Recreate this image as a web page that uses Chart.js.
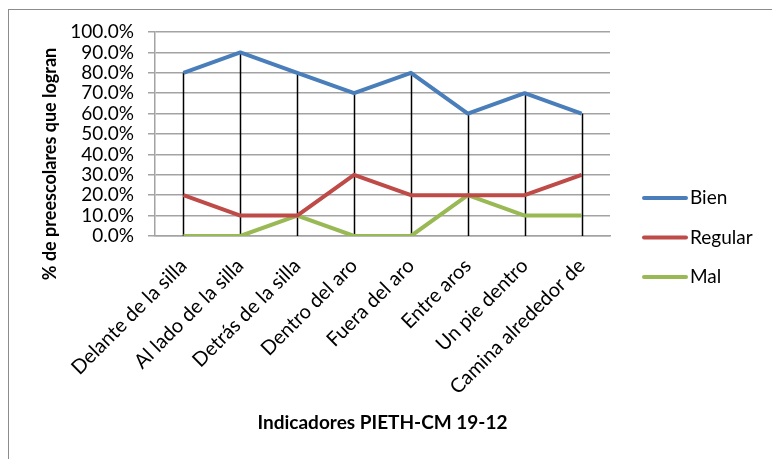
<!DOCTYPE html>
<html>
<head>
<meta charset="utf-8">
<script src="https://cdn.jsdelivr.net/npm/chart.js"></script>
<style>
  html, body { margin: 0; padding: 0; background: #fff; overflow: hidden; }
  #wrap { position: relative; width: 772px; height: 459px; }
  #frame { position: absolute; left: 8px; top: 9px; width: 900px; height: 600px; border-left: 1.5px solid #8c8c8c; border-top: 1.5px solid #8c8c8c; }
  canvas { position: absolute; left: 0; top: 0; }
</style>
</head>
<body>
<div id="wrap">
  <div id="frame"></div>
  <canvas id="chart" width="772" height="459"></canvas>
</div>
<script>
// datos del gráfico
const categories = [
  "Delante de la silla", "Al lado de la silla", "Detrás de la silla", "Dentro del aro",
  "Fuera del aro", "Entre aros", "Un pie dentro", "Camina alrededor de"
];
const bien = [80, 90, 80, 70, 80, 60, 70, 60];
const regular = [20, 10, 10, 30, 20, 20, 20, 30];
const mal = [0, 0, 10, 0, 0, 20, 10, 10];
const seriesNames = ["Bien", "Regular", "Mal"];
const seriesColors = ["#4a7ebb", "#be4b48", "#98b954"];
const yTitle = "% de preescolares que logran";
const xTitle = "Indicadores PIETH-CM 19-12";

const FONT = "Lato, 'Open Sans', sans-serif";
const GRID = "#a3a3a3";
const FS = 19;

Chart.defaults.font.family = FONT;
Chart.defaults.color = "#000";

// lineas verticales desde el valor mas alto hasta 0
const dropLines = {
  id: "dropLines",
  beforeDatasetsDraw(chart) {
    const { ctx, scales: { x, y } } = chart;
    ctx.save();
    ctx.strokeStyle = "#000";
    ctx.lineWidth = 1.5;
    categories.forEach((c, i) => {
      const top = Math.max(...chart.data.datasets.map(d => d.data[i]));
      const px = Math.round(x.getPixelForValue(i)) + 0.5;
      ctx.beginPath();
      ctx.moveTo(px, y.getPixelForValue(top));
      ctx.lineTo(px, y.getPixelForValue(0));
      ctx.stroke();
    });
    ctx.restore();
  }
};

// titulo Y y leyenda a mano (como en Excel)
const extras = {
  id: "extras",
  afterDraw(chart) {
    const { ctx } = chart;
    ctx.save();
    ctx.fillStyle = "#000";
    ctx.font = `bold 18px ${FONT}`;
    ctx.textAlign = "center";
    ctx.textBaseline = "middle";
    ctx.translate(50, 164);
    ctx.rotate(-Math.PI / 2);
    ctx.fillText(yTitle, 0, 0);
    ctx.restore();

    ctx.save();
    ctx.font = `${FS}px ${FONT}`;
    ctx.textBaseline = "middle";
    ctx.lineCap = "round";
    chart.data.datasets.forEach((d, i) => {
      const ly = 198 + i * 39.5;
      ctx.strokeStyle = d.borderColor;
      ctx.lineWidth = 4;
      ctx.beginPath();
      ctx.moveTo(644, ly);
      ctx.lineTo(686, ly);
      ctx.stroke();
      ctx.fillStyle = "#000";
      ctx.fillText(d.label, 690, ly);
    });
    ctx.restore();
  }
};

const datasets = [bien, regular, mal].map((vals, i) => ({
  label: seriesNames[i],
  data: vals,
  borderColor: seriesColors[i],
  backgroundColor: seriesColors[i],
  borderWidth: 4,
  pointRadius: 0,
  tension: 0,
  borderJoinStyle: "round"
}));

new Chart(document.getElementById("chart"), {
  type: "line",
  data: { labels: categories, datasets },
  plugins: [dropLines, extras],
  options: {
    responsive: false,
    animation: false,
    layout: { padding: { top: 32, right: 162, bottom: 21, left: 0 } },
    plugins: { legend: { display: false }, tooltip: { enabled: false } },
    scales: {
      x: {
        offset: true,
        grid: { display: false, drawTicks: false },
        border: { color: GRID, width: 1.5 },
        ticks: { font: { size: 20 }, minRotation: 45, maxRotation: 45, autoSkip: false, padding: 18 },
        title: { display: true, text: xTitle, font: { size: FS, weight: "bold" } },
        afterFit: s => { s.height = 202; }
      },
      y: {
        min: 0,
        max: 100,
        ticks: { stepSize: 10, autoSkip: false, font: { size: FS, lineHeight: 1 }, padding: 14, callback: v => v.toFixed(1) + "%" },
        grid: { color: GRID, lineWidth: 1.5, tickLength: 7 },
        border: { color: GRID, width: 1.5 },
        afterFit: s => { s.width = 155; }
      }
    }
  }
});
</script>
</body>
</html>
